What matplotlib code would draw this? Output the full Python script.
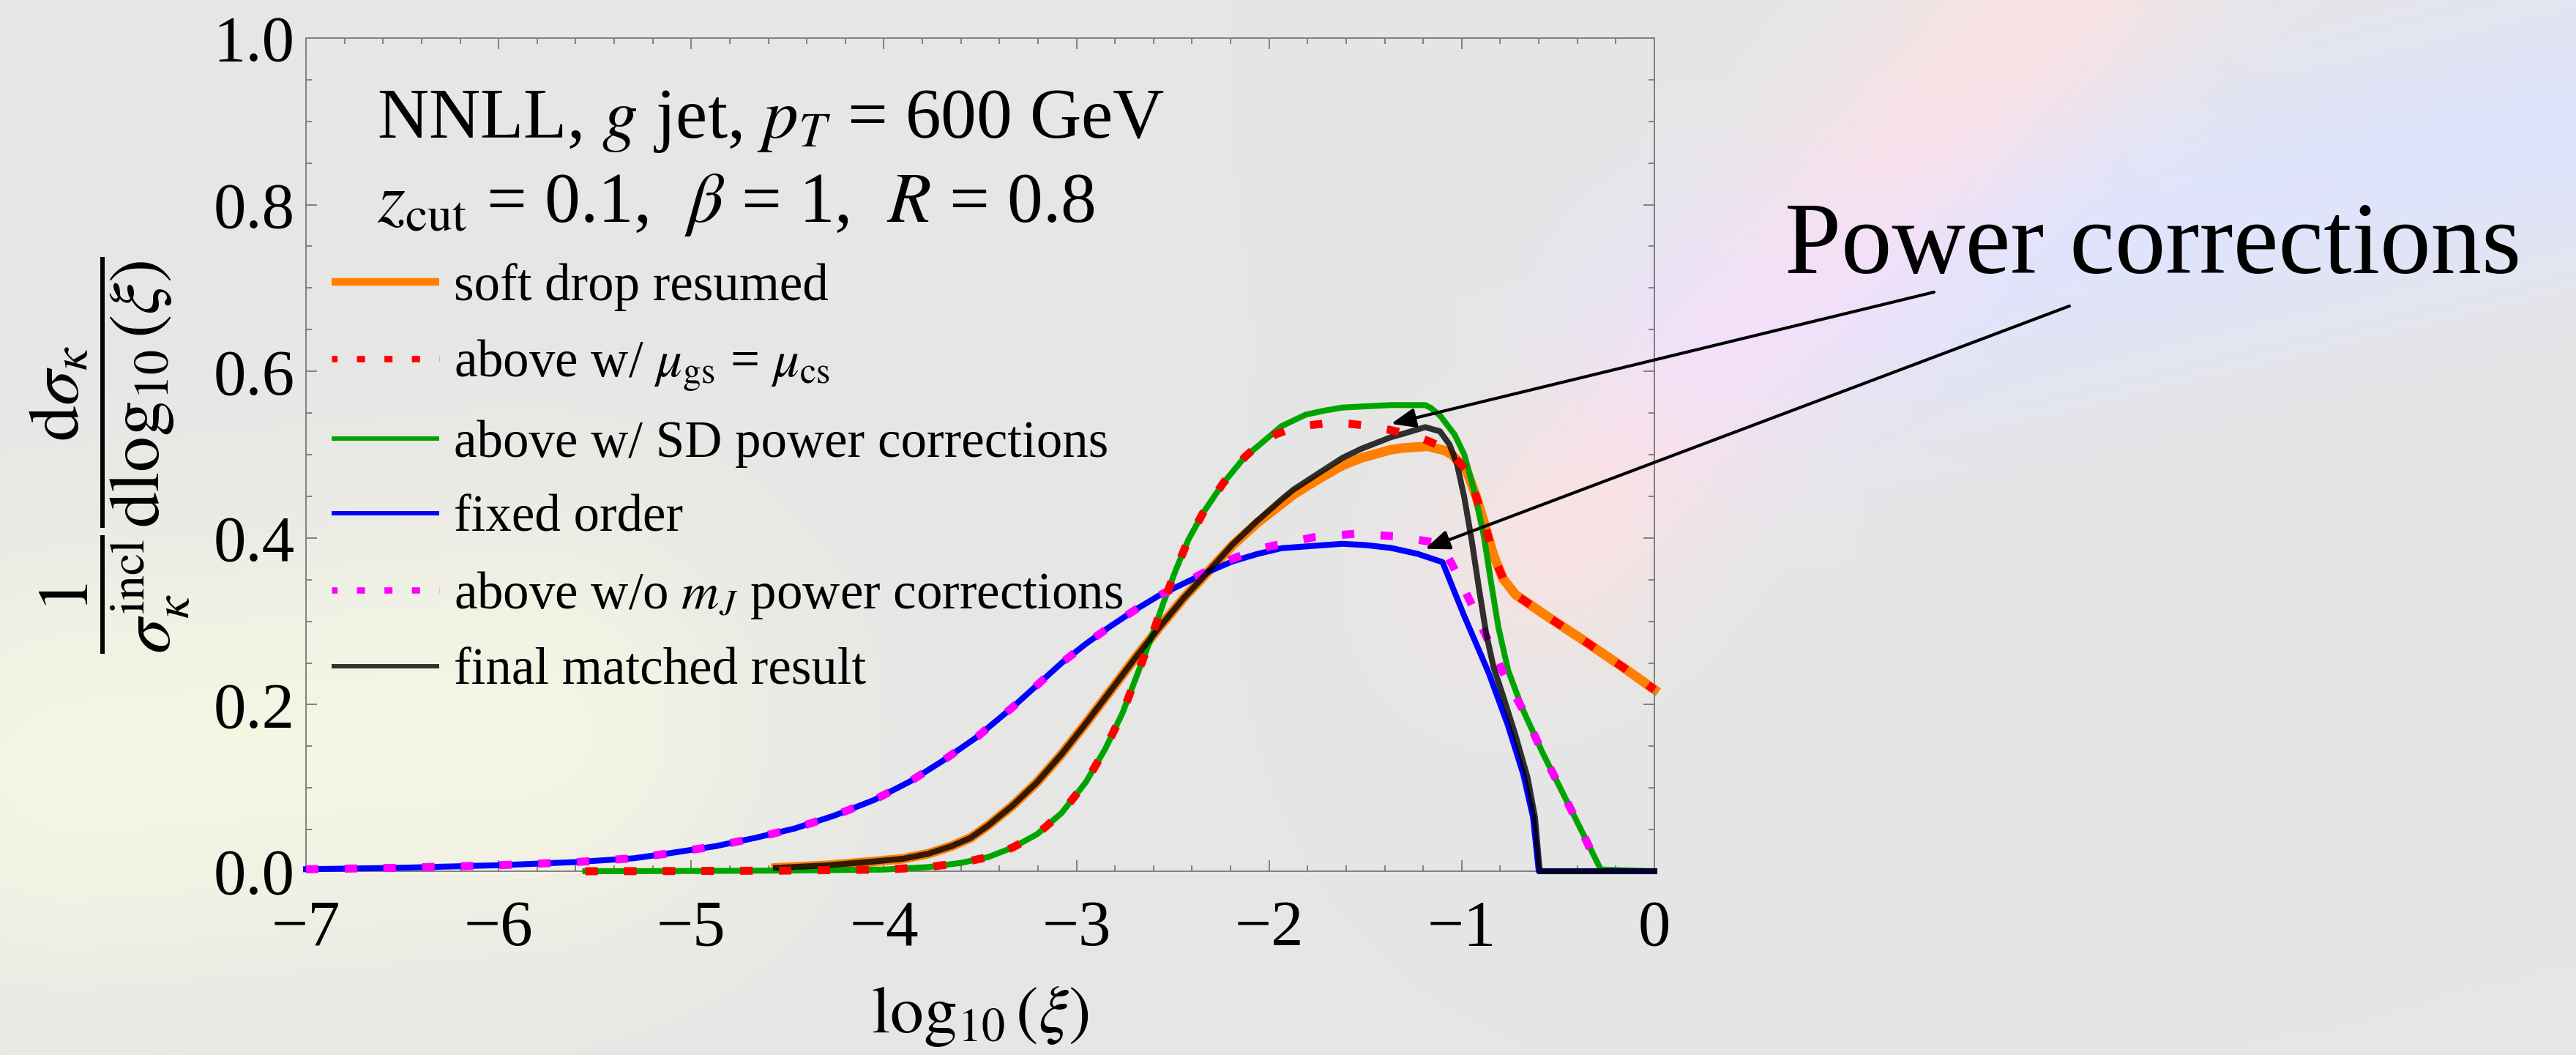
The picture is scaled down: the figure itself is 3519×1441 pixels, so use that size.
import numpy as np
import matplotlib
matplotlib.use('Agg')
import matplotlib.pyplot as plt
from matplotlib.lines import Line2D

# ---------------- data ----------------
fo_x = [-7.0, -6.5, -6.0, -5.6, -5.3, -5.13, -4.875, -4.669, -4.463, -4.257, -4.051, -3.864,
        -3.699, -3.517, -3.331, -3.204, -3.077, -2.951, -2.824, -2.697, -2.571, -2.444,
        -2.317, -2.191, -2.064, -1.937, -1.80, -1.62, -1.50, -1.367, -1.23, -1.10, -0.99,
        -0.86, -0.76, -0.68, -0.63, -0.60, 0.0]
fo_y = [0.0024, 0.0042, 0.0072, 0.011, 0.0155, 0.021, 0.030, 0.040, 0.0513, 0.0668, 0.0855, 0.1078,
        0.1318, 0.161, 0.197, 0.2235, 0.250, 0.273, 0.294, 0.3135, 0.331, 0.3453,
        0.3594, 0.3718, 0.3806, 0.3877, 0.390, 0.393, 0.3915, 0.388, 0.381, 0.371, 0.308,
        0.238, 0.175, 0.116, 0.065, 0.0, 0.0]

nomj_x = [-7.0, -6.5, -6.0, -5.6, -5.3, -5.13, -4.875, -4.669, -4.463, -4.257, -4.051, -3.864,
          -3.699, -3.517, -3.331, -3.204, -3.077, -2.951, -2.824, -2.697, -2.571, -2.444,
          -2.317, -2.191, -2.064, -1.975, -1.766, -1.557, -1.348, -1.15, -1.10,
          -1.025, -0.936, -0.848, -0.759, -0.683, -0.582, -0.48, -0.379, -0.278]
nomj_y = [0.0024, 0.0042, 0.0072, 0.011, 0.0155, 0.021, 0.030, 0.040, 0.0513, 0.0668, 0.0855, 0.1078,
          0.1318, 0.161, 0.197, 0.2235, 0.250, 0.273, 0.294, 0.3135, 0.331, 0.3455,
          0.361, 0.375, 0.386, 0.391, 0.401, 0.405, 0.402, 0.395, 0.390,
          0.357, 0.314, 0.269, 0.226, 0.194, 0.143, 0.096, 0.049, 0.0]

sdpc_x = [-5.55, -5.0, -4.5, -4.0, -3.77, -3.60, -3.458, -3.331, -3.204, -3.077, -2.951, -2.849,
          -2.761, -2.685, -2.609, -2.546, -2.482, -2.419, -2.343, -2.241, -2.127, -2.026, -1.937,
          -1.81, -1.71, -1.62, -1.50, -1.367, -1.19, -1.16, -1.113, -1.037, -0.987, -0.936,
          -0.885, -0.848, -0.81, -0.759, -0.683, -0.582, -0.48, -0.379, -0.278, 0.0]
sdpc_y = [0.0, 0.0003, 0.0008, 0.002, 0.005, 0.010, 0.0170, 0.0285, 0.0445, 0.070, 0.107, 0.1476,
          0.190, 0.236, 0.282, 0.324, 0.363, 0.398, 0.430, 0.465, 0.497, 0.5165, 0.534,
          0.548, 0.553, 0.5565, 0.558, 0.5595, 0.5595, 0.556, 0.547, 0.524, 0.500, 0.457,
          0.402, 0.347, 0.293, 0.241, 0.194, 0.143, 0.096, 0.049, 0.002, 0.0]

mugs_x = [-5.55, -5.0, -4.5, -4.0, -3.77, -3.60, -3.458, -3.331, -3.204, -3.077, -2.951, -2.849,
          -2.761, -2.685, -2.609, -2.546, -2.482, -2.419, -2.343, -2.241, -2.127, -2.05, -1.97,
          -1.9, -1.80, -1.69, -1.58, -1.48, -1.38, -1.28, -1.18, -1.08, -1.05, -0.975, -0.924,
          -0.873, -0.835, -0.785, -0.721, -0.557, -0.354, -0.164, 0.0]
mugs_y = [0.0, 0.0003, 0.0008, 0.002, 0.005, 0.010, 0.0170, 0.0285, 0.0445, 0.070, 0.107, 0.1476,
          0.190, 0.236, 0.282, 0.324, 0.363, 0.398, 0.430, 0.465, 0.497, 0.513, 0.524,
          0.530, 0.535, 0.538, 0.537, 0.5345, 0.530, 0.525, 0.517, 0.507, 0.500, 0.481, 0.449,
          0.410, 0.379, 0.351, 0.332, 0.306, 0.275, 0.245, 0.218]

sdr_x = [-4.56, -4.3, -4.06, -3.9, -3.77, -3.65, -3.55, -3.458, -3.331, -3.204, -3.077, -2.951,
         -2.824, -2.697, -2.571, -2.444, -2.317, -2.191, -2.064, -1.937, -1.874, -1.741, -1.62,
         -1.522, -1.367, -1.305, -1.177, -1.089, -1.05, -0.975, -0.924, -0.873, -0.835, -0.785,
         -0.721, -0.557, -0.354, -0.164, 0.0]
sdr_y = [0.004, 0.007, 0.0115, 0.015, 0.021, 0.030, 0.040, 0.055, 0.079, 0.107, 0.1406, 0.1776,
         0.2164, 0.2553, 0.2924, 0.3277, 0.3594, 0.391, 0.4177, 0.4406, 0.452, 0.471, 0.487,
         0.496, 0.506, 0.508, 0.510, 0.505, 0.500, 0.481, 0.449, 0.410, 0.379, 0.351,
         0.332, 0.306, 0.275, 0.245, 0.218]

fin_x = [-4.56, -4.3, -4.06, -3.9, -3.77, -3.65, -3.55, -3.458, -3.331, -3.204, -3.077, -2.951,
         -2.824, -2.697, -2.571, -2.444, -2.317, -2.191, -2.064, -1.937, -1.874, -1.741, -1.62,
         -1.522, -1.367, -1.305, -1.19, -1.113, -1.063, -1.025, -0.987, -0.949, -0.911, -0.873,
         -0.835, -0.785, -0.721, -0.658, -0.62, -0.595, 0.0]
fin_y = [0.004, 0.007, 0.0115, 0.015, 0.021, 0.030, 0.040, 0.055, 0.079, 0.107, 0.1406, 0.1776,
         0.2164, 0.2553, 0.2924, 0.3277, 0.3594, 0.392, 0.420, 0.446, 0.458, 0.478, 0.496,
         0.507, 0.521, 0.525, 0.533, 0.528, 0.512, 0.489, 0.449, 0.398, 0.340, 0.285,
         0.245, 0.210, 0.163, 0.112, 0.065, 0.0, 0.0]

labels = ['soft drop resumed',
          r'above w/ $\mu_{\rm gs}$ = $\mu_{\rm cs}$',
          'above w/ SD power corrections',
          'fixed order',
          r'above w/o $m_J$ power corrections',
          'final matched result']

x_ticks = [-7, -6, -5, -4, -3, -2, -1, 0]
x_ticklabels = ['\u22127', '\u22126', '\u22125', '\u22124', '\u22123', '\u22122', '\u22121', '0']
y_ticks = [0.0, 0.2, 0.4, 0.6, 0.8, 1.0]
y_ticklabels = ['0.0', '0.2', '0.4', '0.6', '0.8', '1.0']

arrow_tips = [(-1.367, 0.537), (-1.19, 0.387)]

# ---------------- style ----------------
plt.rcParams['font.family'] = ['Liberation Serif', 'DejaVu Serif']
plt.rcParams['mathtext.fontset'] = 'stix'

C_OR = '#ff7f00'
C_RE = '#ff0000'
C_GR = '#00a400'
C_BL = '#0000ff'
C_MA = '#ff00ff'
C_BK = 'black'

W, H = 3519, 1441
DPI = 100
fig = plt.figure(figsize=(W / DPI, H / DPI), dpi=DPI, facecolor='#e6e6e6')

# faint background picture
bg = fig.add_axes([0, 0, 1, 1], zorder=-10)
ny, nx = 145, 352
yy, xx = np.mgrid[0:ny, 0:nx]
PX = xx * 10.0
PY = yy * 10.0
img = np.full((ny, nx, 3), 230.0)


def band(x0, y0, x1, y1, width, length_sigma, col, amp):
    dx, dy = x1 - x0, y1 - y0
    L = np.hypot(dx, dy)
    ux, uy = dx / L, dy / L
    rx, ry = PX - x0, PY - y0
    along = rx * ux + ry * uy
    across = -rx * uy + ry * ux
    t = np.clip(along, 0, L)
    fall = np.exp(-0.5 * ((along - t) / length_sigma) ** 2)
    g = np.exp(-0.5 * (across / width) ** 2) * fall
    return g[..., None] * amp * (np.array(col, float) - 230.0)


img += band(2350, 450, 3600, 150, 140, 150, (224, 228, 252), 1.0)
img += band(2150, 700, 2800, 0, 110, 150, (252, 226, 226), 0.9)
img += band(100, 1050, 700, 1000, 220, 250, (247, 247, 228), 0.9)
img = np.clip(img, 0, 255) / 255.0
bg.imshow(img, extent=[0, 1, 0, 1], aspect='auto', interpolation='bilinear', origin='upper')
bg.axis('off')

ax = fig.add_axes([418 / W, 1 - 1190 / H, (2260 - 418) / W, (1190 - 52) / H])
ax.patch.set_alpha(0)

lw_main = 5.8
dots = (0, (1.55, 3.27))
ax.plot(sdr_x, sdr_y, color=C_OR, lw=9.4, zorder=2, clip_on=False, solid_joinstyle='round')
ax.plot(sdpc_x, sdpc_y, color=C_GR, lw=lw_main, zorder=3, clip_on=False, solid_joinstyle='round')
ax.plot(fo_x, fo_y, color=C_BL, lw=lw_main, zorder=4, clip_on=False)
ax.plot(nomj_x, nomj_y, color=C_MA, lw=7.9, ls=dots, zorder=5, clip_on=False)
ax.plot(fin_x, fin_y, color=C_BK, alpha=0.8, lw=lw_main, zorder=6, clip_on=False, solid_joinstyle='round')
ax.plot(mugs_x, mugs_y, color=C_RE, lw=7.9, ls=dots, zorder=7, clip_on=False)

ax.set_xlim(-7, 0)
ax.set_ylim(0, 1)
ax.set_xticks(x_ticks)
ax.set_xticklabels(x_ticklabels)
ax.set_xticks(np.arange(-7, 0.001, 0.2), minor=True)
ax.set_yticks(y_ticks)
ax.set_yticklabels(y_ticklabels)
ax.set_yticks(np.arange(0, 1.0001, 0.05), minor=True)
ax.tick_params(which='both', direction='in', top=True, right=True, color='#808080', width=1.4)
ax.tick_params(which='major', length=11)
ax.tick_params(which='minor', length=6)
ax.tick_params(axis='x', which='major', pad=28, labelsize=64)
ax.tick_params(axis='y', which='major', pad=11, labelsize=64)
for s in ax.spines.values():
    s.set_color('#808080')
    s.set_linewidth(1.4)

ax.set_xlabel(r'$\log_{10}(\xi)$', fontsize=66)
ax.xaxis.set_label_coords(0.5, -0.135)

fig.text(150 / W, 1 - 622 / H,
         r'$\dfrac{1}{\sigma_\kappa^{\rm incl}}\dfrac{{\rm d}\sigma_\kappa}{{\rm d}\log_{10}(\xi)}$',
         rotation=90, ha='center', va='center', fontsize=70)

fig.text(515 / W, 1 - 188 / H, r'NNLL, $g$ jet, $p_T$ = 600 GeV', fontsize=70, va='baseline', ha='left')
fig.text(515 / W, 1 - 303 / H, r'$z_{\rm cut}$ = 0.1,  $\beta$ = 1,  $R$ = 0.8', fontsize=70,
         va='baseline', ha='left')

handles = [Line2D([], [], color=C_OR, lw=7.5, solid_capstyle='butt'),
           Line2D([], [], color=C_RE, lw=6.2, ls=(0.4, (1.28, 3.08)), dash_capstyle='butt'),
           Line2D([], [], color=C_GR, lw=4.3, solid_capstyle='butt'),
           Line2D([], [], color=C_BL, lw=4.3, solid_capstyle='butt'),
           Line2D([], [], color=C_MA, lw=6.2, ls=(0.4, (1.28, 3.08)), dash_capstyle='butt'),
           Line2D([], [], color='#333333', lw=4.3, solid_capstyle='butt')]
ax.legend(handles, labels, loc='upper left', bbox_to_anchor=(453 / W, 1 - 359 / H),
          bbox_transform=fig.transFigure, frameon=False, fontsize=51, handlelength=2.08,
          handletextpad=0.28, labelspacing=0.52, borderpad=0, borderaxespad=0)

fig.text(2438 / W, 1 - 373.5 / H, 'Power corrections', fontsize=100, va='baseline', ha='left')

starts = [(2642, H - 399), (2827, H - 418)]
for tip, st in zip(arrow_tips, starts):
    ax.annotate('', xy=tip, xycoords='data', xytext=st, textcoords='figure pixels',
                arrowprops=dict(arrowstyle='-|>,head_length=0.5,head_width=0.2', lw=3.0,
                                color='black', shrinkA=0, shrinkB=0, mutation_scale=40),
                annotation_clip=False, zorder=10)

fig.savefig('out.png', dpi=DPI, facecolor=fig.get_facecolor())
